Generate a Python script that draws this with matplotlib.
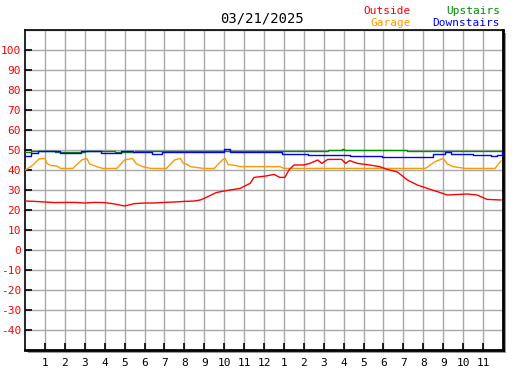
import matplotlib
matplotlib.use("Agg")
import matplotlib.pyplot as plt
from matplotlib.patches import Rectangle

# hours since midnight, readings in degrees F
out_t = [0, 0.5, 1, 1.5, 2, 2.5, 3, 3.5, 4, 4.5, 5, 5.5, 6, 6.5, 7, 7.5, 8, 8.5,
         8.8, 9.1, 9.6, 10.1, 10.8, 11.3, 11.5, 12.1, 12.5, 12.8, 13.05, 13.25,
         13.5, 14.0, 14.3, 14.7, 14.9, 15.2, 15.9, 16.1, 16.3, 16.7, 17.3, 17.8,
         18.2, 18.7, 19.2, 19.7, 20.2, 20.7, 21.2, 22.2, 22.7, 23.2, 23.9]
out_v = [24.5, 24.3, 24.0, 23.7, 23.8, 23.8, 23.5, 23.8, 23.7, 23.0, 22.0, 23.2,
         23.5, 23.5, 23.8, 24.0, 24.3, 24.5, 25.0, 26.3, 28.7, 29.7, 30.8, 33.3,
         36.3, 37.0, 37.8, 36.3, 36.3, 40.0, 42.5, 42.5, 43.3, 45.0, 43.3, 45.3,
         45.3, 43.3, 44.7, 43.3, 42.5, 41.7, 40.3, 39.0, 35.0, 32.5, 30.8, 29.2,
         27.5, 28.0, 27.5, 25.3, 25.0]

gar_t = [0, 0.1, 0.4, 0.7, 1.0, 1.1, 1.3, 1.6, 1.8, 2.4, 2.85, 3.1, 3.25, 3.6,
         3.9, 4.6, 5.0, 5.4, 5.6, 5.9, 6.3, 7.1, 7.5, 7.8, 7.95, 8.1, 8.3, 8.95,
         9.5, 9.9, 10.05, 10.2, 10.6, 10.8, 12.8, 13.0, 20.1, 20.6, 21.0, 21.2,
         21.5, 22.1, 23.6, 23.9]
gar_v = [40.0, 40.5, 42.5, 45.5, 45.8, 43.3, 42.2, 42.0, 40.8, 40.8, 45.0, 45.8,
         43.0, 41.7, 40.8, 40.8, 45.0, 45.8, 43.0, 41.7, 40.8, 40.8, 45.0, 45.8,
         43.3, 43.0, 41.7, 40.8, 40.8, 45.0, 45.8, 42.7, 42.2, 41.7, 41.7, 40.8,
         40.8, 44.2, 45.8, 43.0, 41.7, 40.8, 40.8, 44.5]

up_t = [0, 0.3, 1.5, 3.0, 4.5, 5.5, 7.0, 15.2, 15.9, 16.0, 19.0, 19.2, 23.9]
up_v = [49.0, 49.7, 49.0, 49.7, 49.2, 49.7, 49.7, 50.0, 50.5, 50.0, 50.0, 49.4, 49.4]

down_t = [0, 0.3, 0.65, 1.75, 2.8, 3.8, 4.8, 5.4, 6.4, 6.9, 9.8, 10.0, 10.3, 11.8,
          12.9, 14.2, 16.3, 17.9, 20.0, 20.5, 21.1, 21.4, 22.5, 23.4, 23.7, 23.95]
down_v = [47.2, 48.7, 49.5, 48.3, 49.5, 48.7, 49.7, 48.8, 47.8, 49.2, 49.2, 50.3,
          49.2, 48.8, 48.0, 47.7, 47.0, 46.7, 46.7, 48.0, 48.8, 48.0, 47.7, 47.0,
          47.5, 49.5]

hour_labels = [str(h) for h in list(range(1, 13)) + list(range(1, 12))]
y_ticks = list(range(-40, 101, 10))

W, H = 527, 370
fig = plt.figure(figsize=(W / 100, H / 100), dpi=100)
fig.patch.set_facecolor("white")

L, R, T, B = 25, 503, 30, 350
rect = [L / W, (H - B) / H, (R - L) / W, (B - T) / H]

# drop shadow behind the plot box
sh = 3
fig.patches.append(Rectangle(((L + sh) / W, (H - B - sh) / H), (R - L) / W, (B - T) / H,
                             transform=fig.transFigure, facecolor="#999999",
                             edgecolor="none", zorder=0))

ax = fig.add_axes(rect, zorder=1)
ax.set_facecolor("white")
ax.set_xlim(0, 24)
ax.set_ylim(-50, 110)

for x in range(1, 24):
    ax.axvline(x, color="#a8a8a8", lw=1.0, zorder=1)
for y in range(-40, 111, 10):
    ax.axhline(y, color="#a8a8a8", lw=1.0, zorder=1)

ax.plot(up_t, up_v, color="#008c00", lw=1.0, drawstyle="steps-post", zorder=3)
ax.plot(down_t, down_v, color="#0000ff", lw=1.0, drawstyle="steps-post", zorder=3)
ax.plot(gar_t, gar_v, color="#ff9900", lw=1.0, zorder=3)
ax.plot(out_t, out_v, color="#ff0000", lw=1.0, zorder=4)

mono = "DejaVu Sans Mono"
ax.set_yticks(y_ticks)
ax.set_yticklabels([str(v) for v in y_ticks], color="red", family=mono, fontsize=8)
ax.set_xticks(range(1, 24))
ax.set_xticklabels(hour_labels, family=mono, fontsize=8)
ax.tick_params(axis="both", direction="in", length=5, width=1.2, color="black", pad=3)
ax.tick_params(axis="x", pad=6)

for s in ax.spines.values():
    s.set_color("black")
ax.spines["left"].set_linewidth(1.2)
ax.spines["top"].set_linewidth(1.2)
ax.spines["right"].set_linewidth(2.0)
ax.spines["bottom"].set_linewidth(2.0)

fig.text(262 / W, 1 - 19 / H, "03/21/2025", ha="center", va="center", family=mono, fontsize=10)
fig.text(411 / W, 1 - 11 / H, "Outside", ha="right", va="center", color="#ff0000", family=mono, fontsize=8)
fig.text(411 / W, 1 - 23 / H, "Garage", ha="right", va="center", color="#ff9900", family=mono, fontsize=8)
fig.text(500 / W, 1 - 11 / H, "Upstairs", ha="right", va="center", color="#008c00", family=mono, fontsize=8)
fig.text(500 / W, 1 - 23 / H, "Downstairs", ha="right", va="center", color="#0000ff", family=mono, fontsize=8)

fig.savefig("out.png", dpi=100)
